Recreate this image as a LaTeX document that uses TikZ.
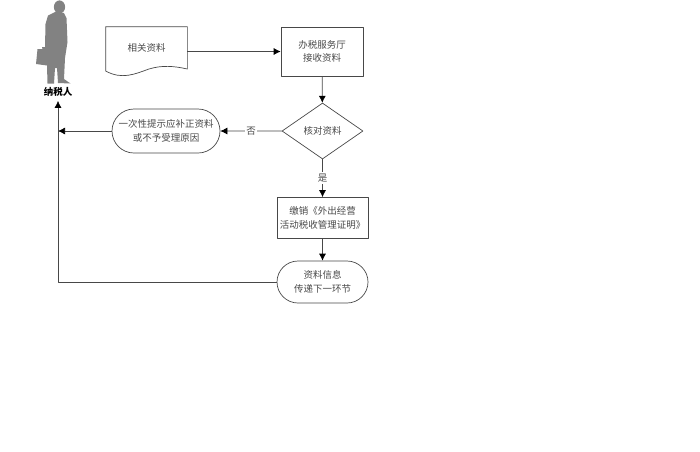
\documentclass[tikz,border=0pt]{standalone}
\usepackage{fontspec}
\newfontfamily\cjk{Noto Sans CJK SC}
\usetikzlibrary{arrows.meta,shapes.geometric,shapes.misc}
\definecolor{inkgray}{HTML}{484848}
\definecolor{mangray}{HTML}{828282}
\tikzset{
    txt/.style={font=\cjk\fontsize{9.5}{13.5}\selectfont, text=inkgray, align=center, inner sep=0pt},
    boxnode/.style={txt, draw=inkgray, rectangle, minimum width=#1},
    pillnode/.style={txt, draw=inkgray, rounded rectangle, minimum width=#1},
    arrow/.style={draw=inkgray, -{Latex[length=7pt,width=7pt,color=black]}},
}
\begin{document}
\begin{tikzpicture}[line cap=round, line join=round, x=1pt, y=-1pt, line width=0.7pt]
                \useasboundingbox (0,0) rectangle (700,451);

                % taxpayer figure
                \fill[mangray] (59.5,7) ellipse [x radius=5.6, y radius=6.6];
                \fill[mangray] (55,12) -- (48,15.5) -- (45.5,24) -- (45,47) -- (42,47) -- (42.5,49) -- (37.5,49)
                    -- (36,64) -- (47,65.5) -- (47.5,83.5) -- (54,83.5) -- (55,68) -- (57,68) -- (58,83)
                    -- (70.5,83.5) -- (64,79) -- (65,58) -- (67.5,42) -- (66.5,18) -- (64,13) -- cycle;

                \node[txt, font=\cjk\bfseries\fontsize{9.5}{13.5}\selectfont, text=black] (taxpayer) at (58,92) [minimum height=17pt] {纳税人};

                % nodes
                \node[txt, minimum width=81pt, minimum height=41pt] (material) at (146.5,47.5) {相关资料};
                \node[boxnode=82pt, minimum height=49pt] (receive) at (322,51.5) {办税服务厅\\接收资料};
                \node[txt, draw=inkgray, diamond, minimum width=81pt, minimum height=56pt] (check) at (322.5,131) {核对资料};
                \node[pillnode=108pt, minimum height=44pt] (notice) at (166,131) {一次性提示应补正资料\\或不予受理原因};
                \node[boxnode=91pt, minimum height=41pt] (cancel) at (322.5,218) {缴销《外出经营\\活动税收管理证明》};
                \node[pillnode=91pt, minimum height=42pt] (info) at (322.5,282) {资料信息\\传递下一环节};

                % document outline with wavy bottom
                \draw[inkgray] (material.north west) -- (material.north east) -- (material.east |- 0,69)
                    .. controls (174,66) and (162,65) .. (149,69)
                    .. controls (135,74) and (122,80) .. (material.west |- 0,71) -- cycle;

                % connectors
                \draw[arrow] (material.east |- receive.west) -- (receive.west);
                \draw[arrow] (receive) -- (check);
                \draw[arrow] (check) -- node[txt, fill=white, inner xsep=1.5pt, inner ysep=1pt] (no) {否} (notice);
                \draw[arrow] (check) -- node[txt, fill=white, inner xsep=1pt, inner ysep=2pt] (yes) {是} (cancel);
                \draw[arrow] (cancel) -- (info);
                \draw[arrow] (notice.west) -- (notice.west -| taxpayer.south);
                \draw[arrow] (info.west) -| (taxpayer.south);

            \end{tikzpicture}
\end{document}
